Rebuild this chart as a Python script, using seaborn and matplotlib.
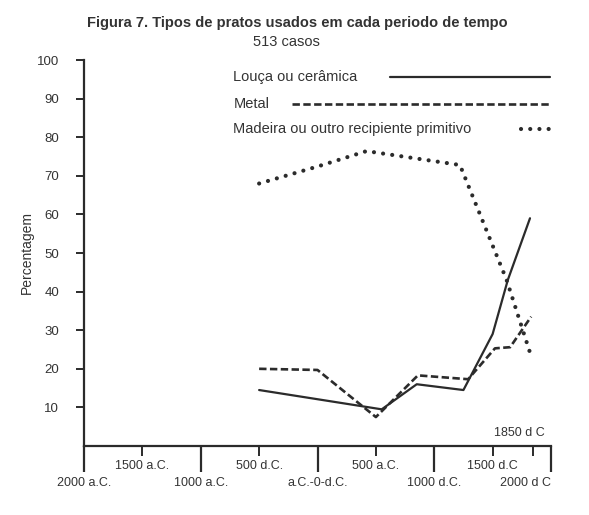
import matplotlib
matplotlib.use("Agg")
from matplotlib import pyplot as plt
import seaborn as sns
import pandas as pd

# Valores (anos: negativo = a.C.)
anos_louca = [-500, 550, 850, 1250, 1500, 1630, 1820]
louca = [14.5, 9.5, 16.0, 14.5, 29.0, 43.0, 59.0]

anos_metal = [-500, 0, 500, 860, 1290, 1520, 1650, 1830]
metal = [20.0, 19.7, 7.5, 18.3, 17.3, 25.3, 25.6, 33.5]

anos_madeira = [-500, 0, 420, 1220, 1620, 1820]
madeira = [68.0, 72.4, 76.4, 72.8, 43.0, 24.2]

ticks_longos = [-2000, -1000, 0, 1000, 2000]
labels_longos = ["2000 a.C.", "1000 a.C.", "a.C.-0-d.C.", "1000 d.C.", "2000 d C"]
ticks_curtos = [-1500, -500, 500, 1500, 1850]
labels_curtos = ["1500 a.C.", "500 d.C.", "500 a.C.", "1500 d.C", ""]

series = ["Louça ou cerâmica", "Metal", "Madeira ou outro recipiente primitivo"]

sns.set_theme(style="ticks")
plt.rcParams["font.family"] = ["Liberation Sans", "DejaVu Sans"]
cor = "#2b2b2b"
cor_txt = "#333333"

fig = plt.figure(figsize=(5.89, 5.15), dpi=100)
ax = fig.add_axes([84 / 589, (515 - 446) / 515, (551 - 84) / 589, (446 - 60) / 515])

df_l = pd.DataFrame({"ano": anos_louca, "pct": louca})
df_m = pd.DataFrame({"ano": anos_metal, "pct": metal})
df_w = pd.DataFrame({"ano": anos_madeira, "pct": madeira})

estilos = [
    dict(color=cor, lw=1.6, linestyle="-"),
    dict(color=cor, lw=1.9, linestyle=(0, (2.8, 1.3))),
    dict(color=cor, lw=3.0, linestyle=(0, (0.01, 2.2)), dash_capstyle="round"),
]

for d, est in zip([df_l, df_m, df_w], estilos):
    sns.lineplot(data=d, x="ano", y="pct", ax=ax, **est)

ax.set_xlim(-2000, 2000)
ax.set_ylim(0, 100)
sns.despine(ax=ax)
for s in ["left", "bottom"]:
    ax.spines[s].set_linewidth(1.6)
    ax.spines[s].set_color(cor)

ax.set_yticks(range(10, 101, 10))
ax.tick_params(axis="y", length=6, width=1.4, color=cor, pad=12, labelsize=9.5, labelcolor=cor_txt)

ax.set_xticks(ticks_longos)
ax.set_xticklabels(labels_longos)
ax.set_xticks(ticks_curtos, minor=True)
ax.set_xticklabels(labels_curtos, minor=True)
ax.tick_params(axis="x", which="major", length=19, width=1.6, color=cor, pad=3, labelsize=9, labelcolor=cor_txt)
ax.tick_params(axis="x", which="minor", length=7, width=1.4, color=cor, pad=3, labelsize=9, labelcolor=cor_txt)
ax.get_xticklabels()[-1].set_ha("right")

ax.set_xlabel("")
ax.set_ylabel("Percentagem", fontsize=10, color=cor_txt, labelpad=2)
ax.text(1950, 1.8, "1850 d C", ha="right", va="bottom", fontsize=9, color=cor_txt)

# legenda: texto seguido da amostra de linha
leg_y = [0.955, 0.885, 0.82]
leg_x0 = [0.655, 0.445, 0.935]
for nome, est, y, x0 in zip(series, estilos, leg_y, leg_x0):
    ax.text(0.32, y, nome, transform=ax.transAxes, ha="left", va="center", fontsize=10.5, color=cor_txt)
    ax.plot([x0, 0.997], [y, y], transform=ax.transAxes, **est)

fig.text(0.505, 1 - 23 / 515, "Figura 7. Tipos de pratos usados em cada periodo de tempo",
         ha="center", va="center", fontsize=10.5, fontweight="bold", color=cor_txt)
fig.text(0.486, 1 - 42 / 515, "513 casos", ha="center", va="center", fontsize=10.5, color=cor_txt)

fig.savefig("out.png", dpi=100, facecolor="white")
